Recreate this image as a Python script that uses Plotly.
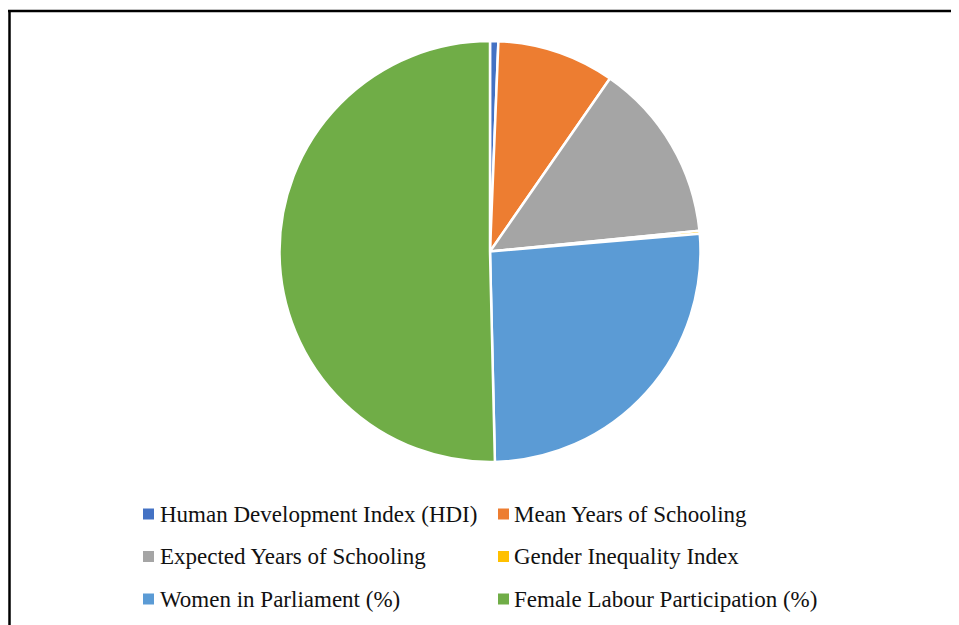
import plotly.graph_objects as go

labels = ["Human Development Index (HDI)", "Mean Years of Schooling",
          "Expected Years of Schooling", "Gender Inequality Index",
          "Women in Parliament (%)", "Female Labour Participation (%)"]
values = [0.6, 8.5, 13.0, 0.2, 24.5, 47.5]
colors = ["#4472C4", "#ED7D31", "#A5A5A5", "#FFC000", "#5B9BD5", "#70AD47"]

OFF = 8  # page body margin offset
W, H = 959, 625

def px(x):
    return (x - OFF) / W

def py(y):
    return 1 - (y - OFF) / H

fig = go.Figure()
fig.add_trace(go.Pie(
    labels=labels, values=values, sort=False, direction="clockwise", rotation=0,
    marker=dict(colors=colors, line=dict(color="white", width=2.5)),
    textinfo="none", hoverinfo="label+value", showlegend=False,
    domain=dict(x=[px(490 - 210.5), px(490 + 210.5)],
                y=[py(462), py(41)]),
))

# manual legend (two columns, three rows)
col_marker_x = [143, 498]
col_text_x = [158, 512]
row_y = [514, 556.5, 599]
shapes = [
    dict(type="line", xref="paper", yref="paper", x0=px(8), x1=px(959), y0=py(11), y1=py(11),
         line=dict(color="black", width=2.5)),
    dict(type="line", xref="paper", yref="paper", x0=px(9.5), x1=px(9.5), y0=py(10), y1=py(625),
         line=dict(color="black", width=2.5)),
]
annotations = []
for i, (lab, c) in enumerate(zip(labels, colors)):
    r, cidx = divmod(i, 2)
    mx = col_marker_x[cidx]
    cy = row_y[r]
    shapes.append(dict(type="rect", xref="paper", yref="paper",
                       x0=px(mx), x1=px(mx + 11),
                       y0=py(cy + 5.5), y1=py(cy - 5.5),
                       fillcolor=c, line=dict(width=0)))
    annotations.append(dict(text=lab, xref="paper", yref="paper",
                            x=px(col_text_x[cidx]), y=py(cy),
                            xanchor="left", yanchor="middle", showarrow=False,
                            font=dict(family="Liberation Serif", size=23, color="#111")))

fig.update_layout(width=W, height=H, margin=dict(l=0, r=0, t=0, b=0),
                  paper_bgcolor="white", plot_bgcolor="white",
                  shapes=shapes, annotations=annotations)
fig.write_html("out.html")
